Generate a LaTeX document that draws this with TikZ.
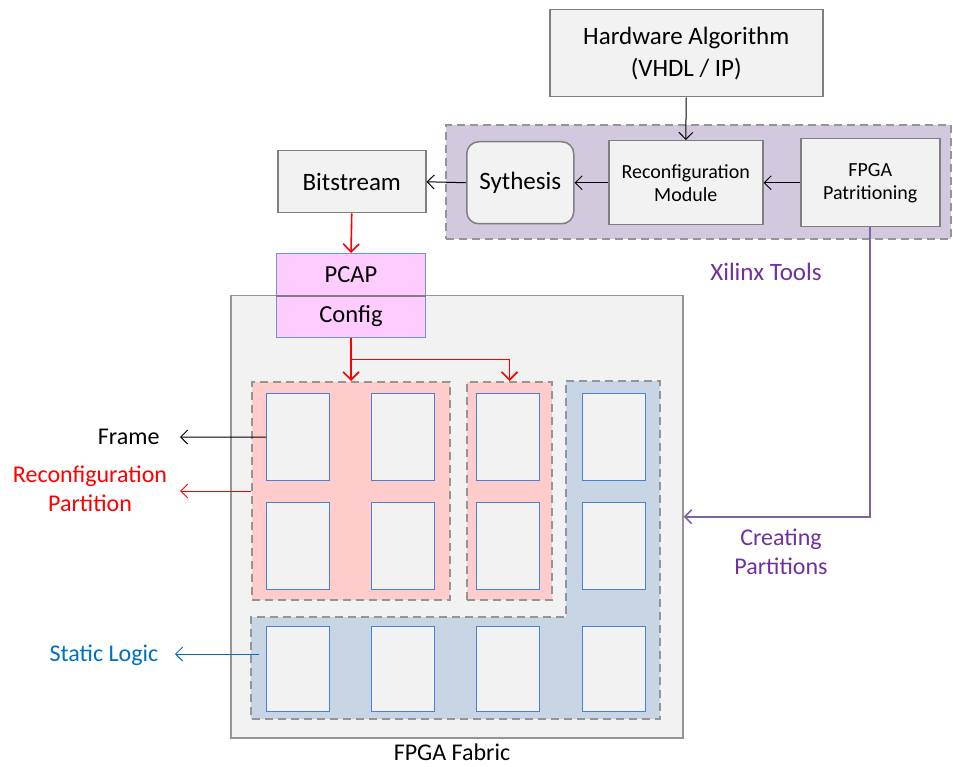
\documentclass[tikz,border=0pt]{standalone}
\usepackage{fontspec}
\setmainfont{Carlito}
\usetikzlibrary{arrows.meta,positioning,calc}
\definecolor{boxgray}{HTML}{F2F2F2}
\definecolor{linegray}{HTML}{7F7F7F}
\definecolor{dashgray}{HTML}{959595}
\definecolor{toolpurple}{HTML}{D3C9DE}
\definecolor{rppink}{HTML}{FFCCCC}
\definecolor{staticblue}{HTML}{C8D5E5}
\definecolor{frameblue}{HTML}{4A80D6}
\definecolor{pcappink}{HTML}{FFCCFF}
\definecolor{pcapline}{HTML}{6E94DC}
\definecolor{txtpurple}{HTML}{7030A0}
\definecolor{arrpurple}{HTML}{8064A2}
\definecolor{txtblue}{HTML}{0070C0}
\definecolor{txtred}{HTML}{FF0000}
\tikzset{
  graybox/.style={draw=linegray, line width=1.5pt, fill=boxgray, inner sep=0pt,
                  anchor=north west, align=center, font=\fontsize{25}{32}\selectfont},
  smallbox/.style={graybox, font=\fontsize{20}{23}\selectfont},
  regionbox/.style={draw=dashgray, line width=2pt, dash pattern=on 8pt off 5pt,
                    inner sep=0pt, anchor=north west},
  framebox/.style={draw=frameblue, line width=1.2pt, fill=boxgray, inner sep=0pt,
                   anchor=north west, minimum width=63pt, minimum height=87pt},
  pcapbox/.style={draw=pcapline, line width=1pt, fill=pcappink, inner sep=0pt,
                  anchor=north west, minimum width=149pt, minimum height=42pt,
                  font=\fontsize{24.5}{28}\selectfont},
  lbl/.style={align=center, font=\fontsize{24}{28.5}\selectfont},
  arr/.style={-{Straight Barb[length=7pt,width=14pt]}, line width=1pt},
  redline/.style={draw=txtred, line width=1.6pt},
  redarr/.style={redline, -{Straight Barb[length=8pt,width=16pt]}},
  parr/.style={arr, color=arrpurple, line width=1.6pt}}
\begin{document}
\begin{tikzpicture}[x=1pt, y=-1pt]
  \useasboundingbox (0,0) rectangle (953,767);
  % Xilinx tool flow
  \node[regionbox, fill=toolpurple, minimum width=505pt, minimum height=114pt] (tools) at (445,124) {};
  \node[lbl, text=txtpurple, font=\fontsize{25}{28.5}\selectfont] (xlab) at (766,272) {Xilinx Tools};
  \node[graybox, minimum width=273pt, minimum height=87pt] (ha) at (549,9) {Hardware Algorithm\\(VHDL / IP)};
  \node[smallbox, minimum width=139pt, minimum height=88pt] (part) at (800,138) {FPGA\\Patritioning};
  \node[smallbox, minimum width=154pt, minimum height=84pt] (rm) at (608,140) {Reconfiguration\\Module};
  \node[graybox, rounded corners=12pt, minimum width=107pt, minimum height=82pt] (syn) at (466,141) {Sythesis};
  \node[graybox, minimum width=148pt, minimum height=62pt] (bit) at (277,150) {Bitstream};
  \draw[arr] (ha.south) -- (rm.north);
  \draw[arr] (part.west) -- (rm.east);
  \draw[arr] (rm.west) -- (syn.east);
  \draw[arr] (syn.west) -- (bit.east);
  % FPGA fabric
  \node[draw=dashgray, line width=1.5pt, fill=boxgray, anchor=north west,
        minimum width=452pt, minimum height=442pt, inner sep=0pt] (fabric) at (230,295) {};
  \node[lbl, inner sep=0pt] (flab) at (452,752) {FPGA Fabric};
  \node[regionbox, fill=rppink, minimum width=198pt, minimum height=218pt] (rp1) at (251,381) {};
  \node[regionbox, fill=rppink, minimum width=85pt, minimum height=218pt] (rp2) at (466,381) {};
  \draw[draw=dashgray, line width=2pt, dash pattern=on 8pt off 5pt, fill=staticblue]
    (566,381) -- (660,381) -- (660,719) -- (251,719) -- (251,617) -- (566,617) -- cycle;
  \foreach \c/\x in {1/266,2/371,3/476,4/582} {
    \node[framebox] (f\c1) at (\x,393) {};
    \node[framebox] (f\c2) at (\x,502) {};
    \node[framebox, minimum height=85pt] (f\c3) at (\x,626) {};
  }
  % PCAP
  \node[pcapbox] (pcap) at (276,253) {PCAP};
  \node[pcapbox] (config) at (276,295) {Config};
  \draw[linegray, line width=1.2pt] (pcap.south west) -- (pcap.south east);
  \draw[redarr] (bit.south) -- (pcap.north);
  \draw[redarr] (config.south) -- (rp1.north);
  \coordinate (split) at ($(config.south)!0.5!(rp1.north)$);
  \coordinate (turn) at (split -| rp2.north);
  \draw[redline] (split) -- (turn);
  \draw[redarr] (turn) -- (rp2.north);
  % labels
  \node[lbl, anchor=east] (frame) at (163,437) {Frame};
  \node[lbl, text=txtred] (rplab) at (90,489) {Reconfiguration\\Partition};
  \node[lbl, text=txtblue] (slab) at (104,655) {Static Logic};
  \coordinate (ftip) at (180,437);
  \coordinate (sl) at (259,654);
  \coordinate (sltip) at (175,654);
  \draw[arr] (f11.west) -- (ftip);
  \draw[arr, txtred] (rp1.west) -- (rp1.west -| ftip);
  \draw[arr, txtblue] (sl) -- (sltip);
  \draw[parr] (part.south) |- (fabric.east);
  \node[lbl, text=txtpurple] (cplab) at (781,552) {Creating\\Partitions};
\end{tikzpicture}
\end{document}
